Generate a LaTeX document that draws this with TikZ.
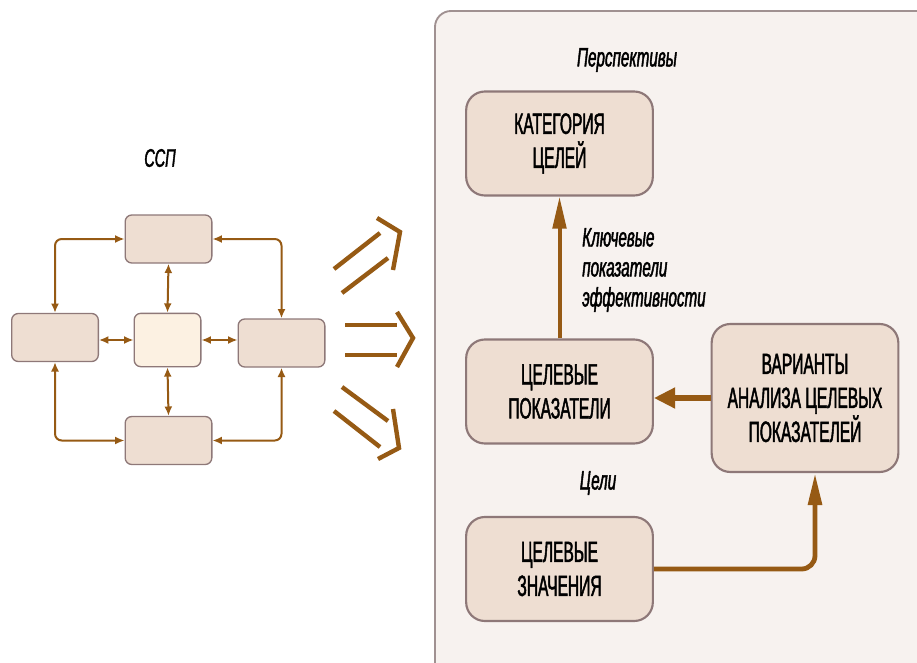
\documentclass[tikz,border=0pt]{standalone}
\usepackage{fontspec}
\setmainfont{Liberation Sans}
\newfontfamily\capsfont[FakeStretch=0.53,FakeBold=1.6]{Liberation Sans}
\newfontfamily\lblfont[FakeStretch=0.57,FakeBold=1.6]{Liberation Sans}
\usetikzlibrary{arrows.meta}

\definecolor{boxfill}{RGB}{238,222,210}
\definecolor{boxline}{RGB}{142,120,120}
\definecolor{midfill}{RGB}{252,241,226}
\definecolor{panelfill}{RGB}{247,242,239}
\definecolor{panelline}{RGB}{160,145,145}
\definecolor{arrbrown}{RGB}{150,90,20}

\tikzset{
  sspbox/.style={draw=boxline, fill=boxfill, line width=1pt, rounded corners=5pt,
    minimum width=65pt, minimum height=36pt, inner sep=0pt},
  goalbox/.style={draw=boxline, fill=boxfill, line width=1.6pt, rounded corners=14pt,
    minimum width=140pt, minimum height=78pt, inner sep=0pt, align=center,
    font=\capsfont\fontsize{22}{25.5}\selectfont},
  lnk/.style={arrbrown, line width=1.5pt, rounded corners=5pt,
    {Latex[length=7pt,width=6pt]}-{Latex[length=7pt,width=6pt]}},
  flow/.style={arrbrown, line width=3pt, -{Triangle[length=24pt,width=10pt]}},
  dbl/.style={arrbrown, line width=3.3pt},
  lbl/.style={font=\lblfont\itshape\fontsize{20}{22.5}\selectfont, inner sep=0pt},
}

\begin{document}
\begin{tikzpicture}[x=0.75pt, y=-0.75pt]

  \useasboundingbox (0,0) rectangle (917,663);

  % right panel
  \draw[panelline, fill=panelfill, line width=1.4pt, rounded corners=12pt]
    (435,11) rectangle (940,690);

  % balanced scorecard sketch
  \node[lbl, font=\lblfont\itshape\fontsize{19}{19}\selectfont] (ssp) at (160,158) {ССП};
  \node[sspbox] (ssptop) at (168.5,239) {};
  \node[sspbox] (sspleft) at (55,337.5) {};
  \node[sspbox, fill=midfill, minimum width=50pt, minimum height=40pt] (sspmid) at (167.5,340) {};
  \node[sspbox] (sspright) at (281.5,343) {};
  \node[sspbox] (sspbot) at (168.5,440.5) {};

  \draw[lnk] (sspleft.north) |- (ssptop.west);
  \draw[lnk] (ssptop.east) -| (sspright.north);
  \draw[lnk] (sspleft.south) |- (sspbot.west);
  \draw[lnk] (sspright.south) |- (sspbot.east);
  \draw[lnk] (ssptop.south) -- (sspmid.north);
  \draw[lnk] (sspmid.south) -- (sspbot.north);
  \draw[lnk] (sspleft.east |- sspmid.west) -- (sspmid.west);
  \draw[lnk] (sspmid.east) -- (sspright.west |- sspmid.east);

  % transfer arrows
  \draw[dbl] (334,269) -- (380,233);
  \draw[dbl] (342,293) -- (388,258);
  \draw[dbl] (377,218) -- (400,232) -- (393,270);
  \draw[dbl] (345,325) -- (397,325);
  \draw[dbl] (345,355) -- (397,355);
  \draw[dbl] (397,312) -- (413,338) -- (397,367);
  \draw[dbl] (342,387) -- (388,421);
  \draw[dbl] (334,411) -- (380,447);
  \draw[dbl] (393,409) -- (399,448) -- (378,459);

  % goals and measures
  \node[lbl] (persp) at (627,60) {Перспективы};
  \node[goalbox] (cat) at (559.5,143.5) {КАТЕГОРИЯ\\ЦЕЛЕЙ};
  \node[goalbox] (kpi) at (559.5,391.5) {ЦЕЛЕВЫЕ\\ПОКАЗАТЕЛИ};
  \node[goalbox, minimum height=111pt] (var) at (805,398) {ВАРИАНТЫ\\АНАЛИЗА ЦЕЛЕВЫХ\\ПОКАЗАТЕЛЕЙ};
  \node[goalbox] (tval) at (559.5,569) {ЦЕЛЕВЫЕ\\ЗНАЧЕНИЯ};
  \node[lbl, anchor=west, align=left] (kpilbl) at (582,270) {Ключевые\\показатели\\эффективности};
  \node[lbl] (goals) at (598,483) {Цели};

  \draw[flow] (kpi.north) -- (cat.south);
  \draw[flow, line width=3.8pt, -{Triangle[length=16pt,width=15pt]}]
    (var.west) -- (kpi.east |- var.west);
  \draw[flow, line width=3.6pt, rounded corners=10pt] (tval.east) -| ([xshift=7.5pt]var.south);

\end{tikzpicture}
\end{document}
